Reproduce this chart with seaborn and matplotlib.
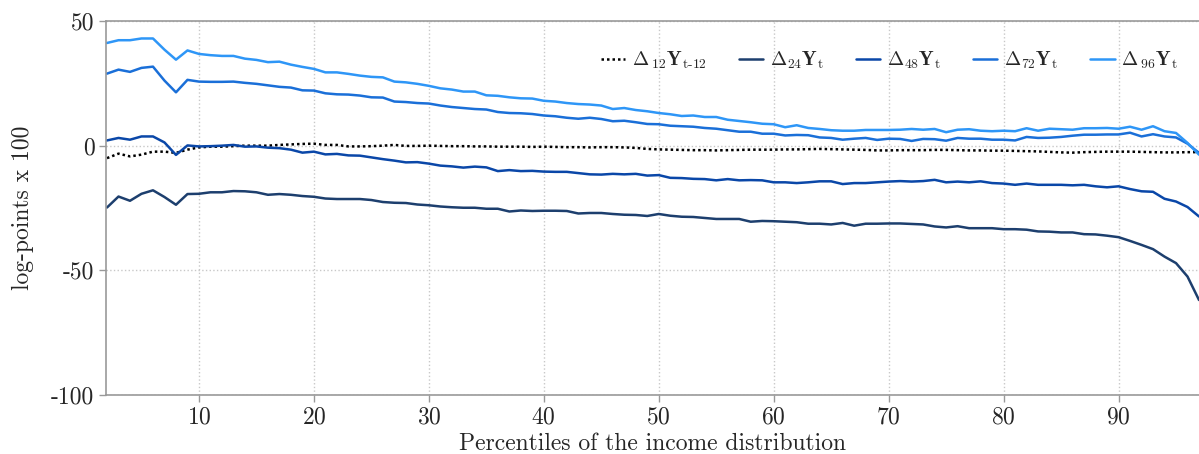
import numpy as np
import pandas as pd
import matplotlib
matplotlib.use("Agg")
import matplotlib.pyplot as plt
import seaborn as sns

# -------- données --------
percentiles = list(range(2, 98))

d12 = [-5.0, -3.2, -4.3, -3.6, -2.4, -2.4, -2.9, -1.6, -0.7, -0.4, -0.4, -0.2, 0.0, 0.0, 0.0, 0.3, 0.5, 0.7, 0.8, 0.3, 0.3, -0.3, -0.3, -0.2, 0.0, 0.3,
       -0.1, -0.1, 0.0, -0.1, -0.2, -0.2, -0.3, -0.3, -0.4, -0.4, -0.4, -0.5, -0.4, -0.5, -0.6, -0.6, -0.7, -0.6, -0.6, -0.7, -0.9, -1.3, -1.5, -1.6, -1.7, -1.8,
       -1.8, -1.9, -1.8, -1.7, -1.6, -1.6, -1.6, -1.5, -1.5, -1.4, -1.3, -1.4, -1.5, -1.6, -1.7, -1.9, -1.9, -1.8, -1.8, -1.8, -1.7, -1.7, -1.8, -1.9, -1.9,
       -2.0, -2.0, -2.1, -2.2, -2.3, -2.5, -2.7, -2.8, -2.6, -2.5, -2.4, -2.4, -2.4, -2.5, -2.6, -2.7, -2.7, -2.6, -2.6]

d24 = [-24.8, -20.4, -22.1, -19.3, -17.9, -20.6, -23.7, -19.4, -19.3, -18.7, -18.7, -18.2, -18.3, -18.7, -19.7, -19.4, -19.7, -20.2, -20.5, -21.2, -21.4, -21.4, -21.4, -21.8, -22.6, -22.9,
       -23.0, -23.6, -23.9, -24.4, -24.7, -24.9, -24.9, -25.3, -25.3, -26.4, -26.0, -26.2, -26.1, -26.1, -26.2, -27.2, -27.0, -27.0, -27.4, -27.7, -27.8, -28.2, -27.4, -28.1, -28.5, -28.6,
       -29.0, -29.4, -29.4, -29.4, -30.5, -30.2, -30.3, -30.5, -30.7, -31.3, -31.3, -31.6, -31.0, -32.1, -31.3, -31.3, -31.2, -31.2, -31.4, -31.6, -32.4, -32.8, -32.3, -33.1, -33.1,
       -33.1, -33.5, -33.5, -33.7, -34.4, -34.5, -34.8, -34.8, -35.5, -35.6, -36.1, -36.7, -38.2, -39.8, -41.5, -44.5, -47.1, -52.5, -61.9]

d48 = [2.1, 3.1, 2.4, 3.7, 3.7, 1.3, -3.7, 0.1, -0.3, -0.2, 0.0, 0.3, -0.4, -0.3, -0.8, -1.0, -1.6, -2.8, -2.4, -3.5, -3.3, -3.9, -4.0, -4.7, -5.4, -6.0,
       -6.7, -6.6, -7.2, -8.0, -8.3, -8.8, -8.4, -8.7, -10.2, -9.8, -10.2, -10.1, -10.4, -10.5, -10.5, -11.0, -11.5, -11.6, -11.3, -11.5, -11.3, -12.0, -11.8, -12.9, -13.0, -13.3,
       -13.4, -13.9, -13.4, -13.9, -13.8, -13.9, -14.7, -14.7, -15.0, -14.7, -14.3, -14.3, -15.4, -15.0, -15.0, -14.7, -14.4, -14.2, -14.4, -14.2, -13.7, -14.7, -14.4, -14.7, -14.3,
       -15.0, -15.2, -15.7, -15.2, -15.7, -15.7, -15.7, -15.9, -15.7, -16.3, -16.7, -16.3, -17.4, -18.3, -18.5, -21.3, -22.4, -24.6, -28.4]

d72 = [28.9, 30.5, 29.6, 31.2, 31.7, 26.1, 21.4, 26.4, 25.7, 25.6, 25.6, 25.7, 25.2, 24.8, 24.2, 23.6, 23.3, 22.2, 22.1, 21.0, 20.6, 20.5, 20.1, 19.4, 19.3, 17.7,
       17.5, 17.1, 16.9, 16.1, 15.5, 15.1, 14.7, 14.5, 13.5, 13.1, 13.0, 12.7, 12.1, 11.8, 11.2, 10.8, 11.2, 10.7, 9.8, 10.0, 9.4, 8.7, 8.6, 8.0, 7.8, 7.6,
       7.1, 6.8, 6.2, 5.6, 5.6, 4.8, 4.8, 4.1, 4.3, 4.2, 3.3, 3.1, 2.4, 2.8, 3.1, 2.3, 2.8, 2.7, 1.9, 2.7, 2.6, 2.0, 3.1, 2.8, 2.8,
       2.4, 2.4, 2.1, 3.5, 3.1, 3.2, 3.5, 4.0, 4.4, 4.4, 4.5, 4.5, 5.2, 3.7, 4.6, 3.7, 3.3, 0.8, -2.9]

d96 = [41.2, 42.3, 42.3, 43.0, 43.0, 38.5, 34.5, 38.2, 36.8, 36.3, 36.0, 36.0, 34.9, 34.4, 33.5, 33.7, 32.5, 31.6, 30.8, 29.4, 29.4, 28.8, 28.1, 27.6, 27.4, 25.7,
       25.4, 24.8, 24.0, 23.0, 22.5, 21.7, 21.7, 20.2, 20.0, 19.4, 19.0, 18.9, 18.0, 17.7, 17.1, 16.7, 16.5, 16.1, 14.7, 15.1, 14.3, 13.8, 13.1, 12.6, 11.9, 12.1,
       11.5, 11.5, 10.4, 9.9, 9.4, 8.8, 8.6, 7.4, 8.2, 7.1, 6.7, 6.2, 6.0, 6.0, 6.3, 6.3, 6.3, 6.4, 6.7, 6.4, 6.7, 5.4, 6.4, 6.6, 6.0,
       5.8, 6.0, 5.8, 7.0, 6.0, 6.8, 6.6, 6.4, 7.0, 7.0, 7.1, 6.8, 7.6, 6.4, 7.8, 5.8, 5.1, 1.1, -3.6]

series = ["d12", "d24", "d48", "d72", "d96"]
labels = [r"$\mathbf{\Delta}\,{}_{12}\mathbf{Y}_{\mathrm{t\text{-}12}}$",
          r"$\mathbf{\Delta}_{24}\mathbf{Y}_{\mathrm{t}}$",
          r"$\mathbf{\Delta}_{48}\mathbf{Y}_{\mathrm{t}}$",
          r"$\mathbf{\Delta}_{72}\mathbf{Y}_{\mathrm{t}}$",
          r"$\mathbf{\Delta}\,{}_{96}\mathbf{Y}_{\mathrm{t}}$"]
couleurs = {"d12": "black", "d24": "#1d3f6e", "d48": "#0a47a8", "d72": "#1a6fd8", "d96": "#2e96f7"}
tirets = {"d12": (1, 1.2), "d24": "", "d48": "", "d72": "", "d96": ""}

df = pd.DataFrame({"pct": percentiles, "d12": d12, "d24": d24, "d48": d48, "d72": d72, "d96": d96})
df_long = df.melt(id_vars="pct", var_name="serie", value_name="val")

# -------- style --------
sns.set_theme(style="white")
plt.rcParams["font.family"] = "serif"
plt.rcParams["font.serif"] = ["cmr10", "DejaVu Serif"]
plt.rcParams["mathtext.fontset"] = "cm"
plt.rcParams["axes.unicode_minus"] = False
plt.rcParams["axes.formatter.use_mathtext"] = True

fig = plt.figure(figsize=(11.99, 4.54), dpi=100)
ax = fig.add_axes([0.088, 0.130, 0.912, 0.8237])

sns.lineplot(data=df_long, x="pct", y="val", hue="serie", style="serie",
             palette=couleurs, dashes=tirets, linewidth=1.8, ax=ax)

ax.set_xlim(1.87, 97.0)
ax.set_ylim(-100, 50)
ax.set_xticks(range(10, 100, 10))
ax.set_yticks([-100, -50, 0, 50])
ax.set_yticklabels(["-100", "-50", "0", "50"])
ax.set_xlabel("Percentiles of the income distribution", fontsize=17, labelpad=3)
ax.set_ylabel("log-points x 100", fontsize=17, labelpad=12)
ax.tick_params(axis="both", direction="out", length=5, width=1, color="#999999",
               labelsize=17, pad=3, left=True, bottom=True)

ax.grid(True, linestyle=":", color="#c8c8c8", linewidth=1)
for s in ["left", "bottom", "top"]:
    ax.spines[s].set_color("#999999")
    ax.spines[s].set_linewidth(1.2)
ax.spines["right"].set_visible(False)

handles, _ = ax.get_legend_handles_labels()
ax.legend(handles[:5], labels, ncol=5, frameon=False, fontsize=14,
          loc="center right", bbox_to_anchor=(0.997, 0.895),
          handlelength=1.25, handletextpad=0.35, columnspacing=1.65)

fig.savefig("out.png", dpi=100)
